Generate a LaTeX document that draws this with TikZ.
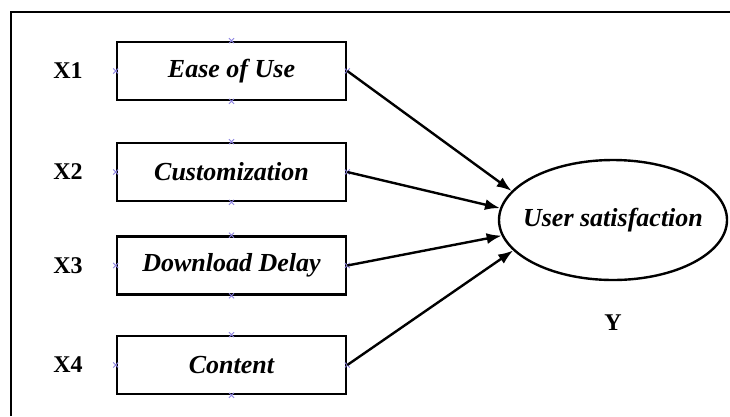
\documentclass[tikz,border=0pt]{standalone}
\usepackage{fontspec}
\setmainfont{Liberation Serif}
\usepackage{tikz}
\usetikzlibrary{shapes.geometric, arrows.meta, positioning}
\definecolor{pinColor}{RGB}{140,130,225}
\tikzset{
	arrow/.style={-{Latex[length=15pt,width=11pt]}, line width=2.4pt},
	factor/.style={draw, line width=2.6pt, minimum width=229pt, minimum height=58pt, inner sep=0pt, font=\fontsize{26}{30}\selectfont\bfseries\itshape},
	latent/.style={draw, ellipse, line width=2.4pt, minimum width=228pt, minimum height=120pt, inner xsep=-12pt, inner ysep=0pt, font=\fontsize{26}{30}\selectfont\bfseries\itshape},
	varname/.style={font=\fontsize{24}{28}\selectfont\bfseries},
	pin/.style={pinColor, line width=0.8pt}
}
\begin{document}
\begin{tikzpicture}[x=1pt, y=-1pt]
	% IMAGE SIZE
	\newcommand{\xMax}{730} \newcommand{\yMax}{416}
	\useasboundingbox (0,0) rectangle (\xMax,\yMax);
	
	% Frame
	\draw[line width=2pt] (11,\yMax) -- (11,12) -- (\xMax,12);
	
	% Factors
	\node[factor] (ease) at (231.5,71) {Ease of Use};
	\node[factor] (custom) at (231.5,172) {Customization};
	\node[factor] (delay) at (231.5,265.5) {Download Delay};
	\node[factor] (content) at (231.5,365) {Content};
	
	% Variable names
	\node[varname] (x1) at (68,71) {X1};
	\node[varname] (x2) at (68,172) {X2};
	\node[varname] (x3) at (68,265.5) {X3};
	\node[varname] (x4) at (68,365) {X4};
	
	% Connection points
	\foreach \b in {ease,custom,delay,content}
	{
		\foreach \a in {north,south,east,west}
		{
			\draw[pin] (\b.\a) +(-2.5,-2.5) -- +(2.5,2.5) +(-2.5,2.5) -- +(2.5,-2.5);
		}
	}
	
	% Outcome
	\node[latent] (sat) at (613,220) {User satisfaction};
	\node[varname] (y) at (613,323) {Y};
	
	% Paths
	\draw[arrow] (ease.east) -- (sat.164);
	\draw[arrow] (custom.east) -- (sat.174);
	\draw[arrow] (delay.east) -- (sat.188);
	\draw[arrow] (content.east) -- (sat.197);
\end{tikzpicture}
\end{document}
